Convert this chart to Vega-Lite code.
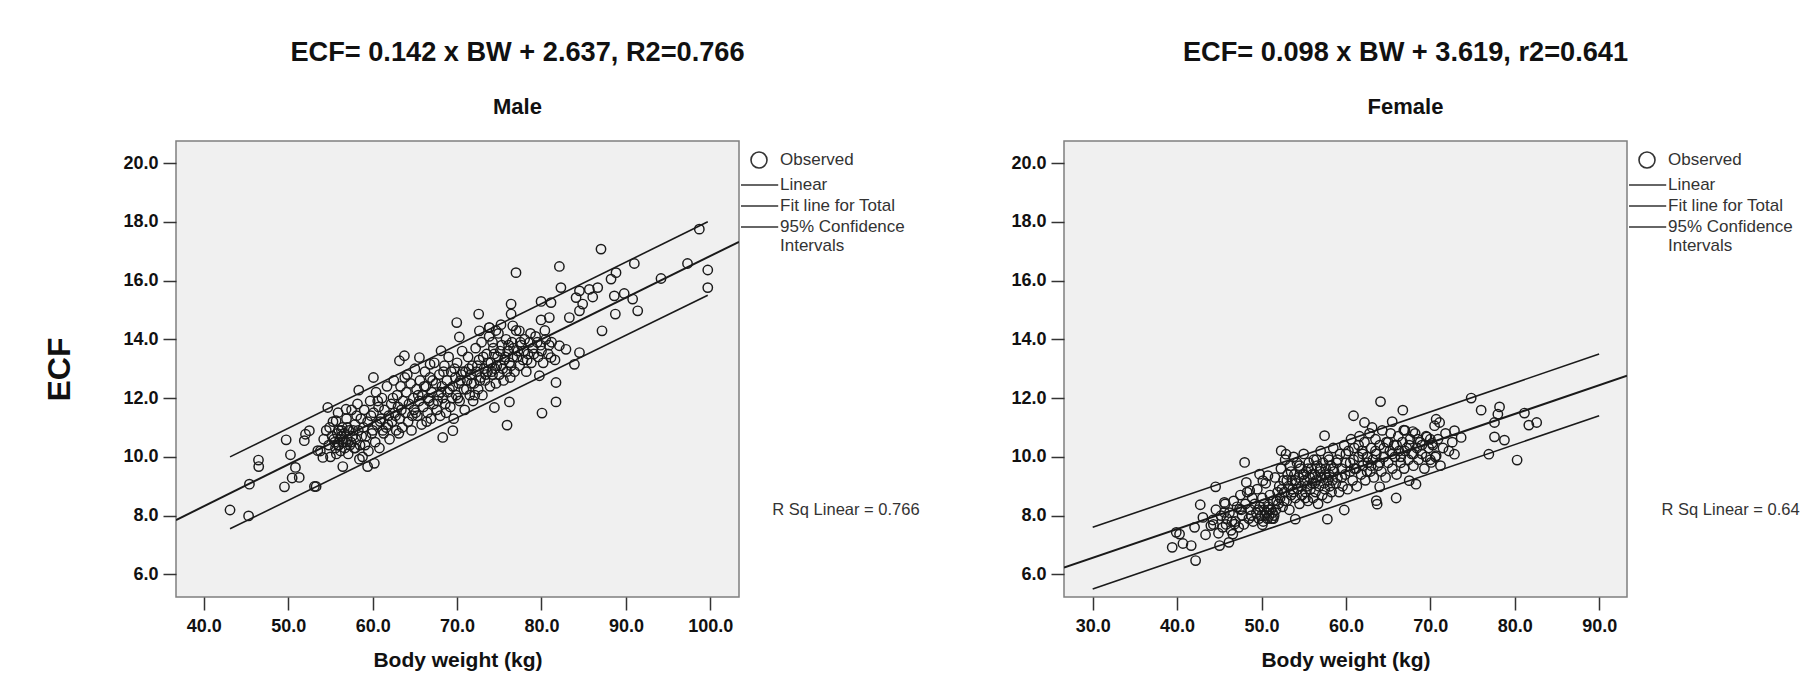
{
"$schema": "https://vega.github.io/schema/vega-lite/v6.json",
"padding": {"left": 43, "top": 38, "right": 0, "bottom": 0},
"config": {
  "font": "Liberation Sans",
  "view": {"fill": "#f0f0f0", "stroke": "#7f7f7f", "strokeWidth": 1.5},
  "axis": {"domain": false, "grid": false, "tickSize": 13, "tickWidth": 1.5, "tickColor": "#333333", "labelFont": "Liberation Sans", "labelFontSize": 18, "labelFontWeight": "bold", "labelColor": "#111111", "titleFont": "Liberation Sans", "titleFontWeight": "bold", "titleColor": "#111111"},
  "axisX": {"labelPadding": 7, "titleFontSize": 21, "titlePadding": 14},
  "axisY": {"labelPadding": 5},
  "title": {"font": "Liberation Sans", "fontSize": 27.2, "fontWeight": "bold", "color": "#111111", "subtitleFont": "Liberation Sans", "subtitleFontSize": 22, "subtitleFontWeight": "bold", "subtitleColor": "#111111", "subtitlePadding": 30, "offset": 22, "anchor": "middle", "frame": "group"},
  "legend": {"orient": "right", "offset": 0.5, "padding": 10, "symbolSize": 256, "symbolStrokeWidth": 1.6, "symbolStrokeColor": "#333333", "symbolFillColor": "transparent", "labelFont": "Liberation Sans", "labelFontSize": 17, "labelColor": "#333333", "labelOffset": 12, "rowPadding": 4, "labelLimit": 220}
},
"datasets": {
  "male": [
    {"bw":98.7,"ecf":17.75},{"bw":87.05,"ecf":17.07},{"bw":76.98,"ecf":16.27},{"bw":82.12,"ecf":16.48},{"bw":91.0,"ecf":16.58},{"bw":97.3,"ecf":16.58},{"bw":99.7,"ecf":16.36},{"bw":99.7,"ecf":15.76},{"bw":94.16,"ecf":16.07},{"bw":82.3,"ecf":15.76},{"bw":88.83,"ecf":16.27},{"bw":88.24,"ecf":16.05},{"bw":86.66,"ecf":15.76},{"bw":85.67,"ecf":15.7},{"bw":84.5,"ecf":15.65},{"bw":84.1,"ecf":15.42},{"bw":86.07,"ecf":15.44},{"bw":84.88,"ecf":15.2},{"bw":84.5,"ecf":14.97},{"bw":83.3,"ecf":14.74},{"bw":88.63,"ecf":15.48},{"bw":89.8,"ecf":15.56},{"bw":90.8,"ecf":15.37},{"bw":91.4,"ecf":14.97},{"bw":88.75,"ecf":14.86},{"bw":87.17,"ecf":14.29},{"bw":79.95,"ecf":15.29},{"bw":81.13,"ecf":15.25},{"bw":79.95,"ecf":14.66},{"bw":80.93,"ecf":14.74},{"bw":76.4,"ecf":15.2},{"bw":76.4,"ecf":14.86},{"bw":76.6,"ecf":14.46},{"bw":77.38,"ecf":14.29},{"bw":72.56,"ecf":14.86},{"bw":69.96,"ecf":14.57},{"bw":70.27,"ecf":14.08},{"bw":72.64,"ecf":14.29},{"bw":73.83,"ecf":14.4},{"bw":81.72,"ecf":12.53},{"bw":81.72,"ecf":11.87},{"bw":80.06,"ecf":11.49},{"bw":75.92,"ecf":11.08},{"bw":76.2,"ecf":11.87},{"bw":74.42,"ecf":11.68},{"bw":83.9,"ecf":13.15},{"bw":84.5,"ecf":13.55},{"bw":82.12,"ecf":13.78},{"bw":82.9,"ecf":13.66},{"bw":81.13,"ecf":13.38},{"bw":79.75,"ecf":12.76},{"bw":69.5,"ecf":10.89},{"bw":68.3,"ecf":10.66},{"bw":60.09,"ecf":12.7},{"bw":58.35,"ecf":12.27},{"bw":54.68,"ecf":11.68},{"bw":56.85,"ecf":11.62},{"bw":63.76,"ecf":13.44},{"bw":63.17,"ecf":13.27},{"bw":65.54,"ecf":13.38},{"bw":68.1,"ecf":13.61},{"bw":66.8,"ecf":13.15},{"bw":49.75,"ecf":10.58},{"bw":50.26,"ecf":10.07},{"bw":46.47,"ecf":9.89},{"bw":46.5,"ecf":9.67},{"bw":45.4,"ecf":9.07},{"bw":43.1,"ecf":8.19},{"bw":45.3,"ecf":7.99},{"bw":49.55,"ecf":8.98},{"bw":50.46,"ecf":9.28},{"bw":51.3,"ecf":9.3},{"bw":50.85,"ecf":9.64},{"bw":53.1,"ecf":8.99},{"bw":53.3,"ecf":8.99},{"bw":52.04,"ecf":10.77},{"bw":52.5,"ecf":10.89},{"bw":51.9,"ecf":10.55},{"bw":54.1,"ecf":9.98},{"bw":53.5,"ecf":10.21},{"bw":56.46,"ecf":9.67},{"bw":59.4,"ecf":9.67},{"bw":60.2,"ecf":9.78},{"bw":58.43,"ecf":9.92},{"bw":57.95,"ecf":10.3},{"bw":54.9,"ecf":11.0},{"bw":55.67,"ecf":11.23},
    {"bw":53.8,"ecf":10.2},{"bw":54.2,"ecf":10.6},{"bw":54.5,"ecf":10.9},{"bw":54.8,"ecf":10.4},{"bw":55.0,"ecf":10.0},{"bw":55.2,"ecf":10.7},{"bw":55.3,"ecf":11.2},{"bw":55.5,"ecf":10.5},{"bw":55.6,"ecf":10.3},{"bw":55.8,"ecf":10.8},{"bw":55.9,"ecf":11.5},{"bw":56.0,"ecf":10.4},{"bw":56.1,"ecf":10.6},{"bw":56.2,"ecf":10.2},{"bw":56.4,"ecf":11.0},{"bw":56.5,"ecf":10.5},{"bw":56.6,"ecf":10.8},{"bw":56.7,"ecf":10.3},{"bw":56.9,"ecf":11.3},{"bw":57.0,"ecf":10.6},{"bw":57.1,"ecf":10.1},{"bw":57.2,"ecf":10.9},{"bw":57.4,"ecf":10.5},{"bw":57.5,"ecf":11.6},{"bw":57.6,"ecf":10.7},{"bw":57.8,"ecf":10.3},{"bw":57.9,"ecf":11.1},{"bw":58.0,"ecf":10.6},{"bw":58.2,"ecf":11.8},{"bw":58.3,"ecf":10.9},{"bw":58.5,"ecf":10.4},{"bw":58.6,"ecf":11.3},{"bw":58.8,"ecf":10.0},{"bw":58.9,"ecf":11.0},{"bw":59.0,"ecf":11.6},{"bw":59.2,"ecf":10.7},{"bw":59.4,"ecf":11.2},{"bw":59.5,"ecf":10.2},{"bw":59.7,"ecf":11.9},{"bw":59.8,"ecf":11.4},{"bw":60.0,"ecf":10.9},{"bw":60.1,"ecf":11.5},{"bw":60.3,"ecf":10.5},{"bw":60.4,"ecf":12.2},{"bw":60.5,"ecf":11.1},{"bw":60.7,"ecf":11.7},{"bw":60.8,"ecf":10.3},{"bw":61.0,"ecf":11.3},{"bw":61.1,"ecf":12.0},{"bw":61.3,"ecf":10.8},{"bw":61.4,"ecf":11.6},{"bw":61.6,"ecf":11.0},{"bw":61.7,"ecf":12.4},{"bw":61.9,"ecf":11.4},{"bw":62.0,"ecf":10.6},{"bw":62.2,"ecf":11.8},{"bw":62.3,"ecf":11.2},{"bw":62.5,"ecf":12.6},{"bw":62.6,"ecf":11.5},{"bw":62.8,"ecf":10.9},{"bw":62.9,"ecf":12.1},{"bw":63.0,"ecf":11.7},{"bw":63.2,"ecf":11.3},{"bw":63.3,"ecf":12.4},{"bw":63.5,"ecf":11.0},{"bw":63.6,"ecf":11.9},{"bw":63.8,"ecf":12.7},{"bw":63.9,"ecf":11.5},{"bw":64.0,"ecf":12.2},{"bw":64.2,"ecf":11.2},{"bw":64.3,"ecf":11.8},{"bw":64.5,"ecf":12.5},{"bw":64.6,"ecf":10.9},{"bw":64.8,"ecf":12.0},{"bw":64.9,"ecf":11.6},{"bw":65.0,"ecf":13.0},{"bw":65.2,"ecf":12.3},{"bw":65.3,"ecf":11.4},{"bw":65.5,"ecf":11.9},{"bw":65.6,"ecf":12.6},{"bw":65.8,"ecf":11.1},{"bw":65.9,"ecf":12.1},{"bw":66.0,"ecf":11.7},{"bw":66.2,"ecf":12.9},{"bw":66.3,"ecf":12.4},{"bw":66.5,"ecf":11.5},{"bw":66.6,"ecf":12.0},{"bw":66.8,"ecf":12.7},{"bw":66.9,"ecf":11.3},{"bw":67.0,"ecf":12.2},{"bw":67.2,"ecf":11.8},{"bw":67.3,"ecf":13.2},{"bw":67.5,"ecf":12.5},{"bw":67.6,"ecf":11.6},{"bw":67.8,"ecf":12.1},{"bw":67.9,"ecf":12.8},{"bw":68.0,"ecf":11.4},{"bw":68.2,"ecf":12.4},{"bw":68.3,"ecf":12.0},{"bw":68.5,"ecf":13.1},{"bw":68.6,"ecf":11.8},{"bw":68.8,"ecf":12.6},{"bw":68.9,"ecf":12.2},{"bw":69.0,"ecf":13.4},{"bw":69.2,"ecf":11.7},{"bw":69.3,"ecf":12.9},{"bw":69.5,"ecf":12.4},{"bw":69.6,"ecf":11.3},{"bw":69.8,"ecf":12.7},{"bw":69.9,"ecf":12.1},{"bw":70.0,"ecf":13.2},{"bw":70.2,"ecf":12.5},{"bw":70.3,"ecf":11.9},{"bw":70.5,"ecf":12.8},{"bw":70.6,"ecf":13.6},{"bw":70.8,"ecf":12.3},{"bw":70.9,"ecf":11.6},{"bw":71.0,"ecf":12.9},{"bw":71.2,"ecf":12.6},{"bw":71.3,"ecf":13.4},{"bw":71.5,"ecf":12.1},{"bw":71.6,"ecf":12.8},{"bw":71.8,"ecf":13.1},{"bw":71.9,"ecf":11.9},{"bw":72.0,"ecf":12.5},{"bw":72.2,"ecf":13.7},{"bw":72.3,"ecf":12.9},{"bw":72.5,"ecf":12.3},{"bw":72.6,"ecf":13.3},{"bw":72.8,"ecf":12.7},{"bw":72.9,"ecf":13.9},{"bw":73.0,"ecf":12.1},{"bw":73.2,"ecf":13.0},{"bw":73.3,"ecf":12.6},{"bw":73.5,"ecf":13.5},{"bw":73.6,"ecf":12.9},{"bw":73.8,"ecf":14.1},{"bw":73.9,"ecf":12.4},{"bw":74.0,"ecf":13.2},{"bw":74.2,"ecf":12.8},{"bw":74.3,"ecf":13.7},{"bw":74.5,"ecf":13.0},{"bw":74.6,"ecf":12.5},{"bw":74.8,"ecf":13.4},{"bw":74.9,"ecf":14.2},{"bw":75.0,"ecf":12.8},{"bw":75.2,"ecf":13.1},{"bw":75.3,"ecf":13.8},{"bw":75.5,"ecf":12.6},{"bw":75.6,"ecf":13.3},{"bw":75.8,"ecf":14.0},{"bw":75.9,"ecf":12.9},{"bw":76.0,"ecf":13.6},{"bw":76.2,"ecf":13.2},{"bw":76.3,"ecf":12.7},{"bw":76.5,"ecf":13.9},{"bw":76.6,"ecf":13.4},{"bw":76.8,"ecf":12.9},{"bw":77.0,"ecf":14.3},{"bw":77.2,"ecf":13.6},{"bw":77.4,"ecf":13.1},{"bw":77.6,"ecf":13.8},{"bw":77.8,"ecf":13.3},{"bw":78.0,"ecf":14.0},{"bw":78.2,"ecf":12.9},{"bw":78.4,"ecf":13.5},{"bw":78.6,"ecf":13.9},{"bw":78.8,"ecf":13.2},{"bw":79.0,"ecf":13.7},{"bw":79.3,"ecf":14.1},{"bw":79.6,"ecf":13.4},{"bw":79.9,"ecf":13.8},{"bw":80.2,"ecf":13.2},{"bw":80.5,"ecf":14.0},{"bw":80.8,"ecf":13.5},{"bw":81.2,"ecf":13.9},{"bw":81.6,"ecf":13.3},
    {"bw":55.4,"ecf":10.6},{"bw":55.9,"ecf":10.4},{"bw":56.3,"ecf":10.7},{"bw":56.8,"ecf":10.5},{"bw":57.3,"ecf":10.4},{"bw":57.7,"ecf":10.9},{"bw":56.0,"ecf":10.9},{"bw":55.7,"ecf":10.1},{"bw":73.8,"ecf":14.4},{"bw":74.6,"ecf":14.3},{"bw":75.2,"ecf":14.5},{"bw":74.2,"ecf":13.9},
    {"bw":56.3,"ecf":10.9},{"bw":57.0,"ecf":11.0},{"bw":58.1,"ecf":11.4},{"bw":59.1,"ecf":10.4},{"bw":60.6,"ecf":11.9},{"bw":61.2,"ecf":10.9},{"bw":62.4,"ecf":12.0},{"bw":63.1,"ecf":10.8},{"bw":64.1,"ecf":12.8},{"bw":64.7,"ecf":11.4},{"bw":65.4,"ecf":12.1},{"bw":66.1,"ecf":12.4},{"bw":66.4,"ecf":11.2},{"bw":67.1,"ecf":12.6},{"bw":67.7,"ecf":11.9},{"bw":68.4,"ecf":12.9},{"bw":68.7,"ecf":11.5},{"bw":69.1,"ecf":12.3},{"bw":69.7,"ecf":13.0},{"bw":70.1,"ecf":12.0},{"bw":70.4,"ecf":12.6},{"bw":70.7,"ecf":12.9},{"bw":71.1,"ecf":12.3},{"bw":71.4,"ecf":13.0},{"bw":71.7,"ecf":12.5},{"bw":72.1,"ecf":12.1},{"bw":72.4,"ecf":13.1},{"bw":72.7,"ecf":12.6},{"bw":73.1,"ecf":13.4},{"bw":73.4,"ecf":12.8},{"bw":73.7,"ecf":13.2},{"bw":74.1,"ecf":12.9},{"bw":74.4,"ecf":13.5},{"bw":74.7,"ecf":13.1},{"bw":75.1,"ecf":13.6},{"bw":75.4,"ecf":13.0},{"bw":75.7,"ecf":13.4},{"bw":76.1,"ecf":13.8},{"bw":76.4,"ecf":13.1},{"bw":76.7,"ecf":13.7},{"bw":77.1,"ecf":13.4},{"bw":77.5,"ecf":13.9},{"bw":77.9,"ecf":13.6},{"bw":78.3,"ecf":13.3},{"bw":78.7,"ecf":14.2},{"bw":79.1,"ecf":13.5},{"bw":79.5,"ecf":13.9},{"bw":80.0,"ecf":13.6},{"bw":80.4,"ecf":14.3},{"bw":80.9,"ecf":13.8},{"bw":63.4,"ecf":11.6},{"bw":62.7,"ecf":11.4},{"bw":61.8,"ecf":11.1},{"bw":60.9,"ecf":11.2},{"bw":59.9,"ecf":10.8},{"bw":58.7,"ecf":10.7},{"bw":65.1,"ecf":11.5},{"bw":66.7,"ecf":11.9},{"bw":68.1,"ecf":12.2},{"bw":69.4,"ecf":12.0}
  ],
  "female": [
    {"bw":64.1,"ecf":11.88},{"bw":66.74,"ecf":11.59},{"bw":74.84,"ecf":12.0},{"bw":76.02,"ecf":11.59},{"bw":78.2,"ecf":11.7},{"bw":78.0,"ecf":11.45},{"bw":77.6,"ecf":11.17},{"bw":81.15,"ecf":11.49},{"bw":81.67,"ecf":11.08},{"bw":82.6,"ecf":11.17},{"bw":77.6,"ecf":10.68},{"bw":78.78,"ecf":10.57},{"bw":76.93,"ecf":10.09},{"bw":80.28,"ecf":9.89},{"bw":72.86,"ecf":10.89},{"bw":73.65,"ecf":10.66},{"bw":72.86,"ecf":10.09},{"bw":70.69,"ecf":11.28},{"bw":71.1,"ecf":11.17},{"bw":70.5,"ecf":11.06},{"bw":69.6,"ecf":10.68},{"bw":70.2,"ecf":10.46},{"bw":70.69,"ecf":10.04},{"bw":70.1,"ecf":9.81},{"bw":60.9,"ecf":11.4},{"bw":62.2,"ecf":11.17},{"bw":63.1,"ecf":11.0},{"bw":65.48,"ecf":11.2},{"bw":66.86,"ecf":10.91},{"bw":67.93,"ecf":10.86},{"bw":65.95,"ecf":8.6},{"bw":63.6,"ecf":8.51},{"bw":63.7,"ecf":8.39},{"bw":64.0,"ecf":8.98},{"bw":68.3,"ecf":9.07},{"bw":67.5,"ecf":9.19},{"bw":59.8,"ecf":8.19},{"bw":57.8,"ecf":7.88},{"bw":54.0,"ecf":7.88},{"bw":50.1,"ecf":7.69},{"bw":48.0,"ecf":9.81},{"bw":52.33,"ecf":10.21},{"bw":52.9,"ecf":10.09},{"bw":57.47,"ecf":10.72},{"bw":44.56,"ecf":8.98},{"bw":42.74,"ecf":8.37},{"bw":43.06,"ecf":7.94},{"bw":44.24,"ecf":7.85},{"bw":42.07,"ecf":7.6},{"bw":40.29,"ecf":7.37},{"bw":39.9,"ecf":7.43},{"bw":40.69,"ecf":7.05},{"bw":39.42,"ecf":6.92},{"bw":41.67,"ecf":6.98},{"bw":42.19,"ecf":6.47},{"bw":45.03,"ecf":6.98},{"bw":46.14,"ecf":7.09},{"bw":43.37,"ecf":7.35},{"bw":44.0,"ecf":7.66},{"bw":46.6,"ecf":7.37},{"bw":46.8,"ecf":7.71},{"bw":45.6,"ecf":8.11},{"bw":45.6,"ecf":8.45},{"bw":47.4,"ecf":8.22},{"bw":48.2,"ecf":9.13},{"bw":48.6,"ecf":8.85},{"bw":50.16,"ecf":9.19},{"bw":49.77,"ecf":9.41},{"bw":50.76,"ecf":9.36},
    {"bw":44.3,"ecf":7.7},{"bw":44.6,"ecf":8.2},{"bw":44.9,"ecf":7.4},{"bw":45.2,"ecf":8.0},{"bw":45.4,"ecf":7.6},{"bw":45.7,"ecf":8.4},{"bw":45.9,"ecf":7.9},{"bw":46.2,"ecf":8.1},{"bw":46.4,"ecf":7.5},{"bw":46.7,"ecf":8.5},{"bw":46.9,"ecf":7.8},{"bw":47.1,"ecf":8.3},{"bw":47.3,"ecf":7.6},{"bw":47.5,"ecf":8.7},{"bw":47.7,"ecf":8.0},{"bw":47.9,"ecf":7.7},{"bw":48.1,"ecf":8.4},{"bw":48.3,"ecf":8.8},{"bw":48.5,"ecf":7.9},{"bw":48.7,"ecf":8.2},{"bw":48.9,"ecf":8.6},{"bw":49.0,"ecf":7.8},
    {"bw":49.2,"ecf":8.4},{"bw":49.4,"ecf":8.1},{"bw":49.5,"ecf":8.9},{"bw":49.7,"ecf":7.9},{"bw":49.8,"ecf":8.3},{"bw":50.0,"ecf":8.0},{"bw":50.1,"ecf":8.6},{"bw":50.2,"ecf":7.8},{"bw":50.3,"ecf":8.2},{"bw":50.4,"ecf":8.0},{"bw":50.5,"ecf":9.1},{"bw":50.6,"ecf":8.1},{"bw":50.7,"ecf":7.9},{"bw":50.8,"ecf":8.3},{"bw":50.9,"ecf":8.0},{"bw":51.0,"ecf":8.7},{"bw":51.1,"ecf":8.2},{"bw":51.2,"ecf":7.9},{"bw":51.3,"ecf":8.1},{"bw":51.4,"ecf":8.5},{"bw":51.5,"ecf":8.0},{"bw":51.6,"ecf":9.3},{"bw":51.7,"ecf":8.2},{"bw":51.9,"ecf":8.8},{"bw":52.0,"ecf":8.4},
    {"bw":52.1,"ecf":9.0},{"bw":52.2,"ecf":8.6},{"bw":52.3,"ecf":9.6},{"bw":52.5,"ecf":8.3},{"bw":52.6,"ecf":9.2},{"bw":52.7,"ecf":8.8},{"bw":52.8,"ecf":9.9},{"bw":53.0,"ecf":8.5},{"bw":53.1,"ecf":9.4},{"bw":53.2,"ecf":9.0},{"bw":53.3,"ecf":8.2},{"bw":53.4,"ecf":9.7},{"bw":53.5,"ecf":8.7},{"bw":53.6,"ecf":9.2},{"bw":53.7,"ecf":8.9},{"bw":53.8,"ecf":10.0},{"bw":53.9,"ecf":9.4},{"bw":54.0,"ecf":8.6},{"bw":54.1,"ecf":9.1},{"bw":54.2,"ecf":9.8},{"bw":54.3,"ecf":8.9},{"bw":54.4,"ecf":9.3},{"bw":54.5,"ecf":8.4},{"bw":54.6,"ecf":9.6},{"bw":54.7,"ecf":9.0},{"bw":54.8,"ecf":8.7},{"bw":54.9,"ecf":9.4},{"bw":55.0,"ecf":10.1},{"bw":55.1,"ecf":9.2},{"bw":55.2,"ecf":8.8},{"bw":55.3,"ecf":9.5},{"bw":55.4,"ecf":9.0},{"bw":55.5,"ecf":8.5},{"bw":55.6,"ecf":9.8},{"bw":55.7,"ecf":9.3},{"bw":55.8,"ecf":8.9},{"bw":55.9,"ecf":9.6},{"bw":56.0,"ecf":9.1},{"bw":56.1,"ecf":8.6},{"bw":56.2,"ecf":9.9},{"bw":56.3,"ecf":9.4},{"bw":56.4,"ecf":8.8},{"bw":56.5,"ecf":9.2},{"bw":56.6,"ecf":9.7},{"bw":56.7,"ecf":8.4},{"bw":56.8,"ecf":9.0},{"bw":56.9,"ecf":9.5},{"bw":57.0,"ecf":10.2},{"bw":57.1,"ecf":9.3},{"bw":57.2,"ecf":8.7},{"bw":57.3,"ecf":9.8},{"bw":57.4,"ecf":9.1},{"bw":57.5,"ecf":8.9},{"bw":57.6,"ecf":9.6},{"bw":57.7,"ecf":9.3},{"bw":57.8,"ecf":8.6},{"bw":57.9,"ecf":10.0},{"bw":58.0,"ecf":9.4},{"bw":58.1,"ecf":9.0},{"bw":58.2,"ecf":9.7},{"bw":58.3,"ecf":8.8},{"bw":58.4,"ecf":9.2},{"bw":58.5,"ecf":10.3},{"bw":58.6,"ecf":9.5},{"bw":58.8,"ecf":9.1},{"bw":58.9,"ecf":9.8},
    {"bw":59.0,"ecf":9.3},{"bw":59.2,"ecf":8.8},{"bw":59.3,"ecf":10.1},{"bw":59.5,"ecf":9.6},{"bw":59.6,"ecf":9.0},{"bw":59.8,"ecf":10.4},{"bw":59.9,"ecf":9.4},{"bw":60.0,"ecf":9.8},{"bw":60.2,"ecf":8.9},{"bw":60.3,"ecf":10.2},{"bw":60.5,"ecf":9.5},{"bw":60.6,"ecf":10.6},{"bw":60.8,"ecf":9.2},{"bw":60.9,"ecf":9.9},{"bw":61.0,"ecf":10.3},{"bw":61.2,"ecf":9.6},{"bw":61.3,"ecf":9.0},{"bw":61.5,"ecf":10.0},{"bw":61.6,"ecf":10.7},{"bw":61.8,"ecf":9.4},{"bw":61.9,"ecf":10.2},{"bw":62.0,"ecf":9.7},{"bw":62.2,"ecf":10.5},{"bw":62.3,"ecf":9.2},{"bw":62.5,"ecf":10.0},{"bw":62.6,"ecf":9.8},{"bw":62.8,"ecf":10.8},{"bw":62.9,"ecf":9.5},{"bw":63.0,"ecf":10.3},{"bw":63.2,"ecf":9.9},{"bw":63.3,"ecf":9.3},{"bw":63.5,"ecf":10.6},{"bw":63.6,"ecf":10.1},{"bw":63.8,"ecf":9.7},{"bw":64.0,"ecf":10.4},{"bw":64.2,"ecf":9.5},{"bw":64.3,"ecf":10.9},{"bw":64.5,"ecf":10.0},{"bw":64.7,"ecf":9.3},{"bw":64.8,"ecf":10.5},{"bw":65.0,"ecf":9.8},{"bw":65.2,"ecf":10.2},{"bw":65.3,"ecf":10.8},{"bw":65.5,"ecf":9.6},{"bw":65.7,"ecf":10.4},{"bw":65.8,"ecf":10.0},{"bw":66.0,"ecf":9.4},{"bw":66.2,"ecf":10.7},{"bw":66.3,"ecf":10.2},{"bw":66.5,"ecf":9.8},{"bw":66.7,"ecf":10.5},{"bw":66.9,"ecf":9.6},{"bw":67.0,"ecf":10.9},{"bw":67.2,"ecf":10.3},{"bw":67.4,"ecf":9.9},{"bw":67.6,"ecf":10.6},{"bw":67.8,"ecf":10.1},{"bw":68.0,"ecf":9.7},{"bw":68.2,"ecf":10.8},{"bw":68.4,"ecf":10.3},{"bw":68.6,"ecf":9.9},{"bw":68.8,"ecf":10.5},{"bw":69.0,"ecf":10.1},{"bw":69.3,"ecf":9.6},{"bw":69.5,"ecf":10.7},{"bw":69.8,"ecf":10.3},{"bw":70.0,"ecf":9.9},{"bw":70.3,"ecf":10.4},{"bw":70.6,"ecf":10.0},{"bw":70.9,"ecf":10.6},{"bw":71.2,"ecf":9.7},{"bw":71.5,"ecf":10.3},{"bw":71.8,"ecf":10.8},{"bw":72.2,"ecf":10.2},{"bw":72.6,"ecf":10.5},
    {"bw":51.8,"ecf":8.5},{"bw":52.4,"ecf":8.9},{"bw":53.0,"ecf":9.2},{"bw":53.5,"ecf":9.5},{"bw":54.0,"ecf":9.2},{"bw":54.5,"ecf":9.7},{"bw":55.0,"ecf":9.4},{"bw":55.5,"ecf":9.6},{"bw":56.0,"ecf":9.4},{"bw":56.5,"ecf":9.9},{"bw":57.0,"ecf":9.6},{"bw":57.5,"ecf":9.4},{"bw":58.0,"ecf":9.9},{"bw":58.5,"ecf":9.6},{"bw":59.0,"ecf":9.9},{"bw":59.5,"ecf":9.3},{"bw":60.0,"ecf":10.1},{"bw":60.5,"ecf":9.8},{"bw":61.0,"ecf":9.6},{"bw":61.5,"ecf":10.4},{"bw":62.0,"ecf":10.1},{"bw":62.5,"ecf":9.5},{"bw":63.0,"ecf":9.7},{"bw":63.5,"ecf":10.2},{"bw":64.0,"ecf":9.8},{"bw":64.5,"ecf":10.3},{"bw":65.0,"ecf":10.5},{"bw":65.5,"ecf":10.1},{"bw":66.0,"ecf":10.4},{"bw":66.5,"ecf":10.0},{"bw":67.0,"ecf":10.2},{"bw":67.5,"ecf":10.4},{"bw":68.0,"ecf":10.1},{"bw":68.5,"ecf":10.6},{"bw":69.0,"ecf":10.4},{"bw":69.5,"ecf":10.0},{"bw":70.0,"ecf":10.6},{"bw":48.8,"ecf":8.0},{"bw":49.6,"ecf":8.2},{"bw":50.3,"ecf":8.4},{"bw":50.9,"ecf":8.2},{"bw":51.4,"ecf":7.9},{"bw":47.6,"ecf":8.2},{"bw":46.5,"ecf":7.8},{"bw":45.8,"ecf":7.7},{"bw":52.7,"ecf":8.5},{"bw":53.8,"ecf":8.8},{"bw":55.2,"ecf":8.6},{"bw":56.3,"ecf":9.1},{"bw":57.9,"ecf":9.2}
  ],
  "maleLines": [
    {"line":"fit","bw":36.7,"ecf":7.85},{"line":"fit","bw":103.4,"ecf":17.32},
    {"line":"upper","bw":43.1,"ecf":10.0},{"line":"upper","bw":99.7,"ecf":18.0},
    {"line":"lower","bw":43.1,"ecf":7.55},{"line":"lower","bw":99.7,"ecf":15.5}
  ],
  "femaleLines": [
    {"line":"fit","bw":26.6,"ecf":6.23},{"line":"fit","bw":93.3,"ecf":12.76},
    {"line":"upper","bw":30.0,"ecf":7.6},{"line":"upper","bw":90.0,"ecf":13.5},
    {"line":"lower","bw":30.0,"ecf":5.5},{"line":"lower","bw":90.0,"ecf":11.4}
  ],
  "maleNote": [{"label": "R Sq Linear = 0.766"}],
  "femaleNote": [{"label": "R Sq Linear = 0.641"}]
},
"spacing": 325,
"bounds": "flush",
"resolve": {"scale": {"x": "independent", "y": "independent", "shape": "independent"}, "axis": {"x": "independent", "y": "independent"}, "legend": {"shape": "independent"}},
"hconcat": [
  {
    "width": 563, "height": 456,
    "title": {"text": "ECF= 0.142 x BW + 2.637, R2=0.766", "subtitle": "Male", "dx": 60},
    "layer": [
      {"data": {"name": "male"}, "mark": {"type": "point", "filled": false, "size": 88, "strokeWidth": 1.45, "color": "#1a1a1a", "opacity": 1},
       "encoding": {
         "x": {"field": "bw", "type": "quantitative", "title": "Body weight (kg)", "scale": {"domain": [36.7, 103.4], "nice": false, "zero": false}, "axis": {"values": [40, 50, 60, 70, 80, 90, 100], "format": ".1f"}},
         "y": {"field": "ecf", "type": "quantitative", "title": "ECF", "scale": {"domain": [5.23, 20.75], "nice": false, "zero": false}, "axis": {"values": [6, 8, 10, 12, 14, 16, 18, 20], "format": ".1f", "titleFontSize": 32, "titlePadding": 46}},
         "shape": {"datum": "Observed", "scale": {"domain": ["Observed", "Linear", "Fit line for Total", "95% Confidence Intervals"], "range": ["circle", "M-2.25,0H2.4", "M-2.25,0H2.4", "M-2.25,0H2.4"]}, "legend": {"title": null, "labelExpr": "datum.label == '95% Confidence Intervals' ? ['95% Confidence', 'Intervals'] : datum.label"}}}},
      {"data": {"name": "maleLines"}, "transform": [{"filter": "datum.line == 'fit'"}], "mark": {"type": "line", "color": "#1a1a1a", "strokeWidth": 2, "clip": true},
       "encoding": {"x": {"field": "bw", "type": "quantitative", "title": "Body weight (kg)"}, "y": {"field": "ecf", "type": "quantitative", "title": "ECF"}}},
      {"data": {"name": "maleLines"}, "transform": [{"filter": "datum.line != 'fit'"}], "mark": {"type": "line", "color": "#1a1a1a", "strokeWidth": 1.6},
       "encoding": {"x": {"field": "bw", "type": "quantitative", "title": "Body weight (kg)"}, "y": {"field": "ecf", "type": "quantitative", "title": "ECF"}, "detail": {"field": "line"}}},
      {"data": {"name": "maleNote"}, "mark": {"type": "text", "align": "left", "baseline": "middle", "fontSize": 16.5, "color": "#333333"},
       "encoding": {"x": {"datum": 107.35}, "y": {"datum": 8.2}, "text": {"field": "label"}}}
    ]
  },
  {
    "width": 563, "height": 456,
    "title": {"text": "ECF= 0.098 x BW + 3.619, r2=0.641", "subtitle": "Female", "dx": 60},
    "layer": [
      {"data": {"name": "female"}, "mark": {"type": "point", "filled": false, "size": 88, "strokeWidth": 1.45, "color": "#1a1a1a", "opacity": 1},
       "encoding": {
         "x": {"field": "bw", "type": "quantitative", "title": "Body weight (kg)", "scale": {"domain": [26.6, 93.3], "nice": false, "zero": false}, "axis": {"values": [30, 40, 50, 60, 70, 80, 90], "format": ".1f"}},
         "y": {"field": "ecf", "type": "quantitative", "title": null, "scale": {"domain": [5.23, 20.75], "nice": false, "zero": false}, "axis": {"values": [6, 8, 10, 12, 14, 16, 18, 20], "format": ".1f"}},
         "shape": {"datum": "Observed", "scale": {"domain": ["Observed", "Linear", "Fit line for Total", "95% Confidence Intervals"], "range": ["circle", "M-2.25,0H2.4", "M-2.25,0H2.4", "M-2.25,0H2.4"]}, "legend": {"title": null, "labelExpr": "datum.label == '95% Confidence Intervals' ? ['95% Confidence', 'Intervals'] : datum.label"}}}},
      {"data": {"name": "femaleLines"}, "transform": [{"filter": "datum.line == 'fit'"}], "mark": {"type": "line", "color": "#1a1a1a", "strokeWidth": 2, "clip": true},
       "encoding": {"x": {"field": "bw", "type": "quantitative", "title": "Body weight (kg)"}, "y": {"field": "ecf", "type": "quantitative", "title": null}}},
      {"data": {"name": "femaleLines"}, "transform": [{"filter": "datum.line != 'fit'"}], "mark": {"type": "line", "color": "#1a1a1a", "strokeWidth": 1.6},
       "encoding": {"x": {"field": "bw", "type": "quantitative", "title": "Body weight (kg)"}, "y": {"field": "ecf", "type": "quantitative", "title": null}, "detail": {"field": "line"}}},
      {"data": {"name": "femaleNote"}, "mark": {"type": "text", "align": "left", "baseline": "middle", "fontSize": 16.5, "color": "#333333", "limit": 140, "ellipsis": "\u200b"},
       "encoding": {"x": {"datum": 97.4}, "y": {"datum": 8.2}, "text": {"field": "label"}}}
    ]
  }
]
}
